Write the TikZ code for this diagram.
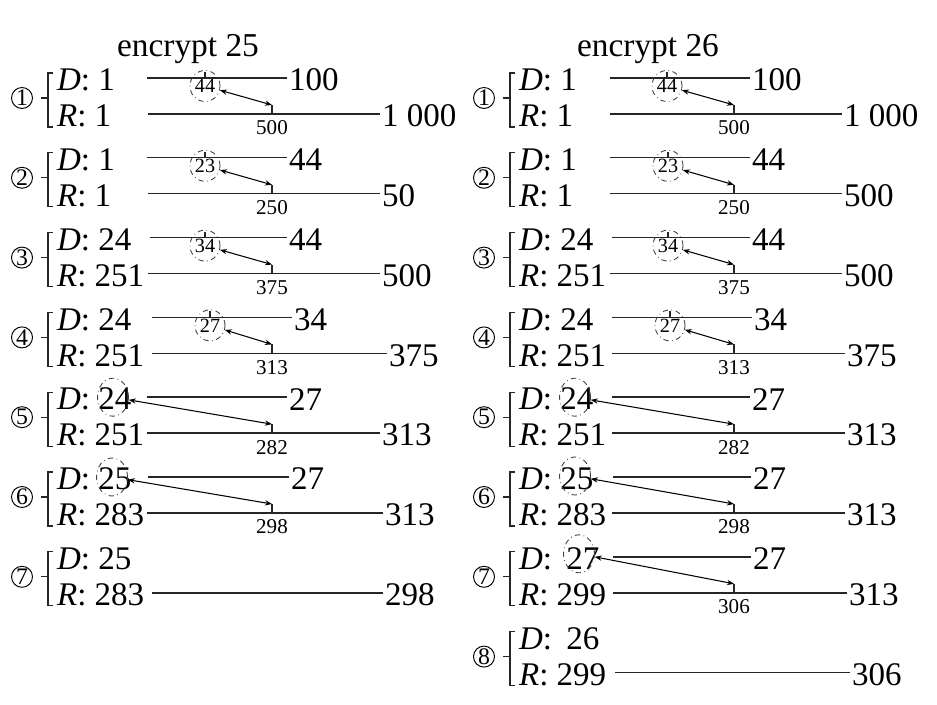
\documentclass[tikz,border=0pt]{standalone}
\usepackage{fontspec}
\setmainfont{Liberation Serif}
\usetikzlibrary{arrows.meta,shapes.geometric}

\begin{document}
\begin{tikzpicture}[x=0.02cm, y=-0.02cm,
    lab/.style={anchor=west, inner sep=1pt, font=\fontsize{18.8}{18.8}\selectfont},
    small/.style={inner sep=0pt, font=\fontsize{12}{12}\selectfont},
    numc/.style={circle, draw, line width=0.55pt, inner sep=0pt, minimum size=0.42cm, font=\fontsize{13.5}{13.5}\selectfont},
    hole/.style={ellipse, draw=black!75, dash dot, line width=0.5pt, inner sep=0pt, minimum width=0.6cm, minimum height=0.62cm, font=\fontsize{11.5}{11.5}\selectfont},
    bar/.style={line width=0.8pt, black!85},
    brk/.style={line width=0.6pt, black!85},
    dbl/.style={{Stealth[length=4pt,width=3pt]}-{Stealth[length=4pt,width=3pt]}, line width=0.6pt}]
    \useasboundingbox (0,0) rectangle (937,705);

    %titles
    \node[lab, anchor=base, font=\fontsize{19}{19}\selectfont] (enc25) at (188,57) {encrypt 25};
    \node[lab, anchor=base, font=\fontsize{19}{19}\selectfont] (enc26) at (648,57) {encrypt 26};

    %steps: number, bracket, D and R rows
    \foreach \c/\k/\dv/\rv/\rs/\re/\rend in {0/1/1/1/148/380/{1 000}, 0/2/1/1/148/380/50, 0/3/24/251/148/380/500,
        0/4/24/251/152/387/375, 0/5/24/251/147/380/313, 0/6/25/283/147/383/313, 0/7/25/283/152/383/298,
        1/1/1/1/148/380/{1 000}, 1/2/1/1/148/380/500, 1/3/24/251/148/380/500, 1/4/24/251/150/383/375,
        1/5/24/251/150/383/313, 1/6/25/283/150/383/313, 1/7/{\hspace{3.4pt}27}/299/151/385/313, 1/8/{\hspace{3.4pt}26}/299/153/388/306}{
        \pgfmathsetmacro\xo{462*\c}
        \pgfmathsetmacro\yd{78+79.8*(\k-1)}
        \node[numc] (num\c\k) at (\xo+22,\yd+20) {\k};
        \draw[brk] (\xo+53,\yd-5) -- (\xo+48,\yd-5) -- (\xo+48,\yd+49) -- (\xo+53,\yd+49);
        \draw[brk] (\xo+48,\yd+20) -- (\xo+41,\yd+20);
        \node[lab] (d\c\k) at (\xo+55,\yd+2) {\textit{D}: \dv};
        \node[lab] (r\c\k) at (\xo+55,\yd+38) {\textit{R}: \rv};
        \coordinate (rs\c\k) at (\xo+\rs,\yd+36);
        \node[lab] (re\c\k) at (\xo+\re,\yd+38) {\rend};
        \draw[bar] (rs\c\k) -- (re\c\k.west |- rs\c\k);
    }

    %D lines
    \foreach \c/\k/\ds/\de/\dend in {0/1/147/287/100, 0/2/147/287/44, 0/3/150/287/44, 0/4/152/292/34,
        0/5/147/287/27, 0/6/148/289/27, 1/1/148/288/100, 1/2/148/288/44, 1/3/150/288/44,
        1/4/150/290/34, 1/5/150/288/27, 1/6/151/289/27, 1/7/151/289/27}{
        \pgfmathsetmacro\xo{462*\c}
        \pgfmathsetmacro\yd{78+79.8*(\k-1)}
        \coordinate (ds\c\k) at (\xo+\ds,\yd);
        \node[lab] (de\c\k) at (\xo+\de,\yd+2) {\dend};
        \draw[bar] (ds\c\k) -- (de\c\k.west |- ds\c\k);
    }

    %middle points on the D line
    \foreach \c/\k/\cx/\cv/\tv in {0/1/205/44/500, 0/2/205/23/250, 0/3/205/34/375, 0/4/210/27/313,
        1/1/205/44/500, 1/2/206/23/250, 1/3/206/34/375, 1/4/208/27/313}{
        \pgfmathsetmacro\xo{462*\c}
        \pgfmathsetmacro\yd{78+79.8*(\k-1)}
        \node[hole] (c\c\k) at (\xo+\cx,\yd+8) {\cv};
        \draw[brk] (\xo+\cx,\yd-6) -- (\xo+\cx,\yd);
        \coordinate (t\c\k) at (\xo+272,\yd+27);
        \draw[brk] (t\c\k) -- (\xo+272,\yd+36);
        \draw[dbl] (c\c\k) -- (t\c\k);
        \node[small] (tl\c\k) at (\xo+272,\yd+50) {\tv};
    }

    %circled D values
    \foreach \c/\k/\ex/\ey/\tv in {0/5/113/0/282, 0/6/112/0/298, 1/5/113/0/282, 1/6/113/-1/298, 1/7/117/-3/306}{
        \pgfmathsetmacro\xo{462*\c}
        \pgfmathsetmacro\yd{78+79.8*(\k-1)}
        \node[hole, minimum width=0.62cm, minimum height=0.76cm] (c\c\k) at (\xo+\ex,\yd+\ey) {};
        \coordinate (t\c\k) at (\xo+272,\yd+27);
        \draw[brk] (t\c\k) -- (\xo+272,\yd+36);
        \draw[dbl] (c\c\k) -- (t\c\k);
        \node[small] (tl\c\k) at (\xo+272,\yd+50) {\tv};
    }

\end{tikzpicture}
\end{document}
